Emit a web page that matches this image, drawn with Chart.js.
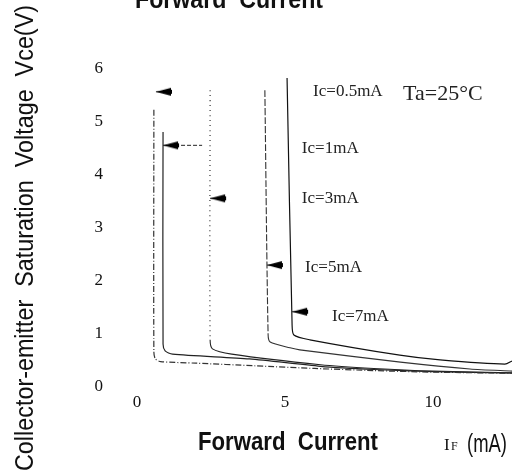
<!DOCTYPE html>
<html>
<head>
<meta charset="utf-8">
<script src="https://cdn.jsdelivr.net/npm/chart.js@4/dist/chart.umd.min.js"></script>
<style>
  html, body { margin: 0; padding: 0; background: #fff; }
  #wrap { width: 520px; height: 474px; position: relative; }
</style>
</head>
<body>
<div id="wrap"><canvas id="vceChart"></canvas></div>
<script>
// Vce(sat) vs forward current, one curve per collector current
const curveLabels = ['Ic=0.5mA', 'Ic=1mA', 'Ic=3mA', 'Ic=5mA', 'Ic=7mA'];

const ic05 = [[0.57, 5.23], [0.57, 0.66], [0.62, 0.53], [0.8, 0.48], [2, 0.45], [4, 0.4], [6, 0.35], [8, 0.31], [10, 0.28], [12.67, 0.26]];
const ic1 = [[0.88, 4.81], [0.88, 0.81], [0.95, 0.68], [1.2, 0.62], [3.8, 0.53], [6.2, 0.39], [8, 0.33], [10, 0.29], [12.67, 0.26]];
const ic3 = [[2.47, 5.6], [2.47, 0.89], [2.55, 0.72], [3.2, 0.62], [6.2, 0.42], [8, 0.35], [10, 0.3], [12.67, 0.27]];
const ic5 = [[4.32, 5.6], [4.43, 0.98], [4.5, 0.85], [5.17, 0.74], [5.5, 0.7], [8.9, 0.47], [11.25, 0.34], [12.67, 0.3]];
const ic7 = [[5.07, 5.83], [5.24, 1.17], [5.3, 0.98], [5.84, 0.89], [8.88, 0.6], [10.24, 0.51], [12.43, 0.43], [12.67, 0.49]];

// arrows pointing at each curve (tip, tail)
const arrowTips = [[0.64, 5.57], [0.88, 4.56], [2.47, 3.56], [4.39, 2.3], [5.24, 1.42]];
const arrowTails = [[1.18, 5.57], [2.2, 4.56], [2.94, 3.56], [4.9, 2.3], [5.68, 1.42]];

// where the curve names sit
const labelSpots = [[5.95, 5.49], [5.57, 4.42], [5.57, 3.47], [5.68, 2.17], [6.59, 1.25]];

const xTicks = [0, 5, 10];
const yTicks = [0, 1, 2, 3, 4, 5, 6];

const toXY = arr => arr.map(p => ({ x: p[0], y: p[1] }));

function makeHead() {
  const c = document.createElement('canvas');
  c.width = 34; c.height = 10;
  const g = c.getContext('2d');
  g.fillStyle = '#000';
  g.beginPath();
  g.moveTo(17, 5);
  g.lineTo(32, 1);
  g.lineTo(32, 9);
  g.closePath();
  g.fill();
  g.fillRect(24, 3, 9, 4);
  return c;
}
const head = makeHead();

function curve(data, color, width, dash, firstDash) {
  return {
    data: toXY(data),
    borderColor: color,
    borderWidth: width,
    borderDash: dash || [],
    pointRadius: 0,
    tension: 0.25,
    segment: firstDash ? { borderDash: c => c.p0DataIndex === 0 ? firstDash : undefined } : undefined
  };
}

const curveSets = [
  curve(ic05, '#333', 1.2, [6, 2, 1, 2]),
  curve(ic1, '#222', 1.2),
  curve(ic3, '#222', 1.1, null, [1, 4]),
  curve(ic5, '#333', 1.1, null, [7, 2]),
  curve(ic7, '#111', 1.2)
];

const arrowSets = arrowTips.map((tip, i) => ({
  data: toXY([tip, arrowTails[i]]),
  borderColor: '#222',
  borderWidth: 1,
  borderDash: i === 1 ? [4, 2] : [],
  pointStyle: [head, 'circle'],
  pointRadius: [3, 0],
  tension: 0
}));

function drawFit(ctx, text, x, y, font, width) {
  ctx.save();
  ctx.font = font;
  const w = ctx.measureText(text).width;
  ctx.translate(x, y);
  ctx.scale(width / w, 1);
  ctx.textAlign = 'left';
  ctx.textBaseline = 'alphabetic';
  ctx.fillText(text, 0, 0);
  ctx.restore();
}

const textPlugin = {
  id: 'texts',
  afterDraw(chart) {
    const ctx = chart.ctx;
    const xs = chart.scales.x, ys = chart.scales.y;
    ctx.save();
    ctx.fillStyle = '#111';
    // top title, clipped by the page edge
    drawFit(ctx, 'Forward  Current', 135, 8, 'bold 25px "Liberation Sans"', 188);
    // x axis title
    drawFit(ctx, 'Forward  Current', 198, 450, 'bold 25px "Liberation Sans"', 180);
    ctx.font = '17px "Liberation Serif"';
    ctx.fillText('I', 444, 450);
    ctx.font = '12px "Liberation Serif"';
    ctx.fillText('F', 451, 450);
    drawFit(ctx, '(mA)', 467, 452, '25px "Liberation Sans"', 40);
    // y axis title
    ctx.save();
    ctx.translate(33, 471);
    ctx.rotate(-Math.PI / 2);
    drawFit(ctx, 'Collector-emitter  Saturation  Voltage  Vce(V)', 0, 0, '25px "Liberation Sans"', 466);
    ctx.restore();
    // curve names
    ctx.fillStyle = '#222';
    ctx.font = '17px "Liberation Serif"';
    ctx.textAlign = 'left';
    curveLabels.forEach((t, i) => {
      ctx.fillText(t, xs.getPixelForValue(labelSpots[i][0]), ys.getPixelForValue(labelSpots[i][1]));
    });
    ctx.font = '22px "Liberation Serif"';
    ctx.fillText('Ta=25°C', xs.getPixelForValue(8.99), ys.getPixelForValue(5.42));
    ctx.restore();
  }
};

new Chart(document.getElementById('vceChart'), {
  type: 'line',
  data: { datasets: curveSets.concat(arrowSets) },
  options: {
    responsive: true,
    maintainAspectRatio: false,
    animation: false,
    layout: { padding: { top: 69, right: 8, left: 0, bottom: 0 } },
    plugins: {
      legend: { display: false },
      tooltip: { enabled: false }
    },
    scales: {
      x: {
        type: 'linear',
        min: 0,
        max: 12.67,
        border: { display: false },
        grid: { display: false, drawTicks: false },
        afterBuildTicks: s => { s.ticks = xTicks.map(v => ({ value: v })); },
        afterFit: s => { s.height = 87; },
        ticks: {
          padding: 5,
          maxRotation: 0,
          color: '#111',
          font: { family: 'Liberation Serif', size: 17 }
        }
      },
      y: {
        min: 0,
        max: 6,
        border: { display: false },
        grid: { display: false, drawTicks: false },
        afterBuildTicks: s => { s.ticks = yTicks.map(v => ({ value: v })); },
        afterFit: s => { s.width = 137; },
        ticks: {
          padding: 34,
          color: '#111',
          font: { family: 'Liberation Serif', size: 17 }
        }
      }
    }
  },
  plugins: [textPlugin]
});
</script>
</body>
</html>
